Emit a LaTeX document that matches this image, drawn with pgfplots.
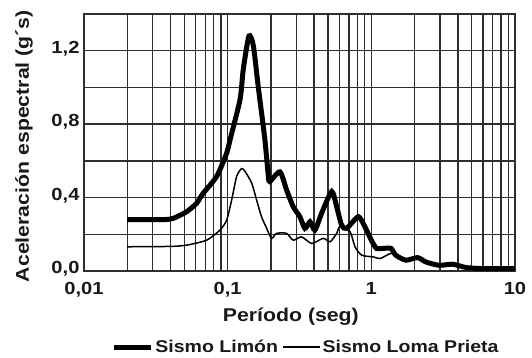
\documentclass[border=0pt]{standalone}
\usepackage{pgfplots}
\pgfplotsset{compat=1.18}
\usepackage{fontspec}
\setmainfont{Liberation Sans}[FakeStretch=1.15]
\definecolor{gridc}{HTML}{2E2E2E}
\begin{document}
\begin{tikzpicture}[x=1pt,y=1pt]
\useasboundingbox (0,0) rectangle (532,357);
\begin{axis}[
  at={(84pt,86pt)}, anchor=south west,
  scale only axis, width=431pt, height=257pt,
  xmode=log, xmin=0.01, xmax=10,
  ymin=0, ymax=1.4,
  xtick={0.01,0.1,1,10},
  xticklabels={{0,01},{0,1},{1},{10}},
  ytick={0,0.4,0.8,1.2},
  yticklabels={{0,0},{0,4},{0,8},{1,2}},
  minor ytick={0.2,0.6,1.0},
  grid=both,
  major grid style={draw=gridc, line width=1.4pt},
  minor grid style={draw=gridc, line width=1.4pt},
  axis line style={draw=gridc, line width=1.4pt},
  major tick length=0pt, minor tick length=0pt,
  tick label style={font=\fontsize{17.5}{20}\selectfont\bfseries, text=black!90},
  xticklabel style={yshift=-8pt},
  yticklabel style={xshift=-1pt, yshift=2pt},
  xlabel={Período (seg)},
  ylabel={Aceleración espectral (g´s)},
  label style={font=\fontsize{18.5}{21}\selectfont\bfseries, text=black!90},
  xlabel style={at={(axis description cs:0.48,-0.179)}, anchor=center},
  ylabel style={at={(axis description cs:-0.139,0.486)}, anchor=center, rotate=0},
  legend columns=2,
  legend style={at={(axis description cs:0.515,-0.296)}, anchor=center, draw=none, fill=none,
    font=\fontsize{17}{20}\selectfont\bfseries, text=black!90,
    /tikz/every even column/.append style={column sep=2pt}},
  legend image code/.code={\draw[#1] (0pt,0pt) -- (37pt,0pt);},
]
\addplot[black, line width=5pt, smooth, tension=0.4] coordinates {
(0.02,0.28) (0.03,0.28) (0.0366,0.28) (0.0419,0.287) (0.0518,0.323) (0.0608,0.369)
(0.067,0.42) (0.0838,0.515) (0.0985,0.643) (0.104,0.716) (0.122,0.935) (0.1285,1.10)
(0.1406,1.28) (0.151,1.227) (0.163,1.008) (0.1816,0.716) (0.191,0.534) (0.196,0.488)
(0.231,0.54) (0.257,0.442) (0.286,0.35) (0.318,0.296) (0.345,0.232) (0.374,0.268)
(0.405,0.223) (0.451,0.315) (0.53,0.433) (0.574,0.35) (0.621,0.25) (0.673,0.232)
(0.811,0.296) (0.902,0.241) (1.0,0.168) (1.086,0.123) (1.197,0.123) (1.37,0.123)
(1.48,0.086) (1.74,0.059) (2.1,0.073) (2.4,0.049) (2.97,0.031) (3.68,0.037)
(4.56,0.019) (5.96,0.013) (10,0.013)
};
\addlegendentry{Sismo Limón}
\addplot[black, line width=1.5pt, smooth, tension=0.4] coordinates {
(0.02,0.132) (0.04,0.134) (0.0518,0.141) (0.0714,0.168) (0.0885,0.223) (0.0985,0.278)
(0.1066,0.387) (0.1155,0.515) (0.125,0.558) (0.132,0.543) (0.147,0.479) (0.159,0.387)
(0.172,0.296) (0.187,0.232) (0.202,0.178) (0.219,0.205) (0.257,0.205) (0.286,0.168)
(0.327,0.186) (0.385,0.150) (0.463,0.178) (0.516,0.159) (0.574,0.205) (0.605,0.241)
(0.711,0.214) (0.77,0.132) (0.857,0.086) (1.03,0.077) (1.15,0.068) (1.35,0.095)
(1.45,0.095) (1.74,0.059) (2.1,0.07) (2.4,0.049) (2.97,0.031) (3.68,0.035)
(4.56,0.019) (5.96,0.013) (10,0.013)
};
\addlegendentry{Sismo Loma Prieta}
\end{axis}
\end{tikzpicture}
\end{document}
